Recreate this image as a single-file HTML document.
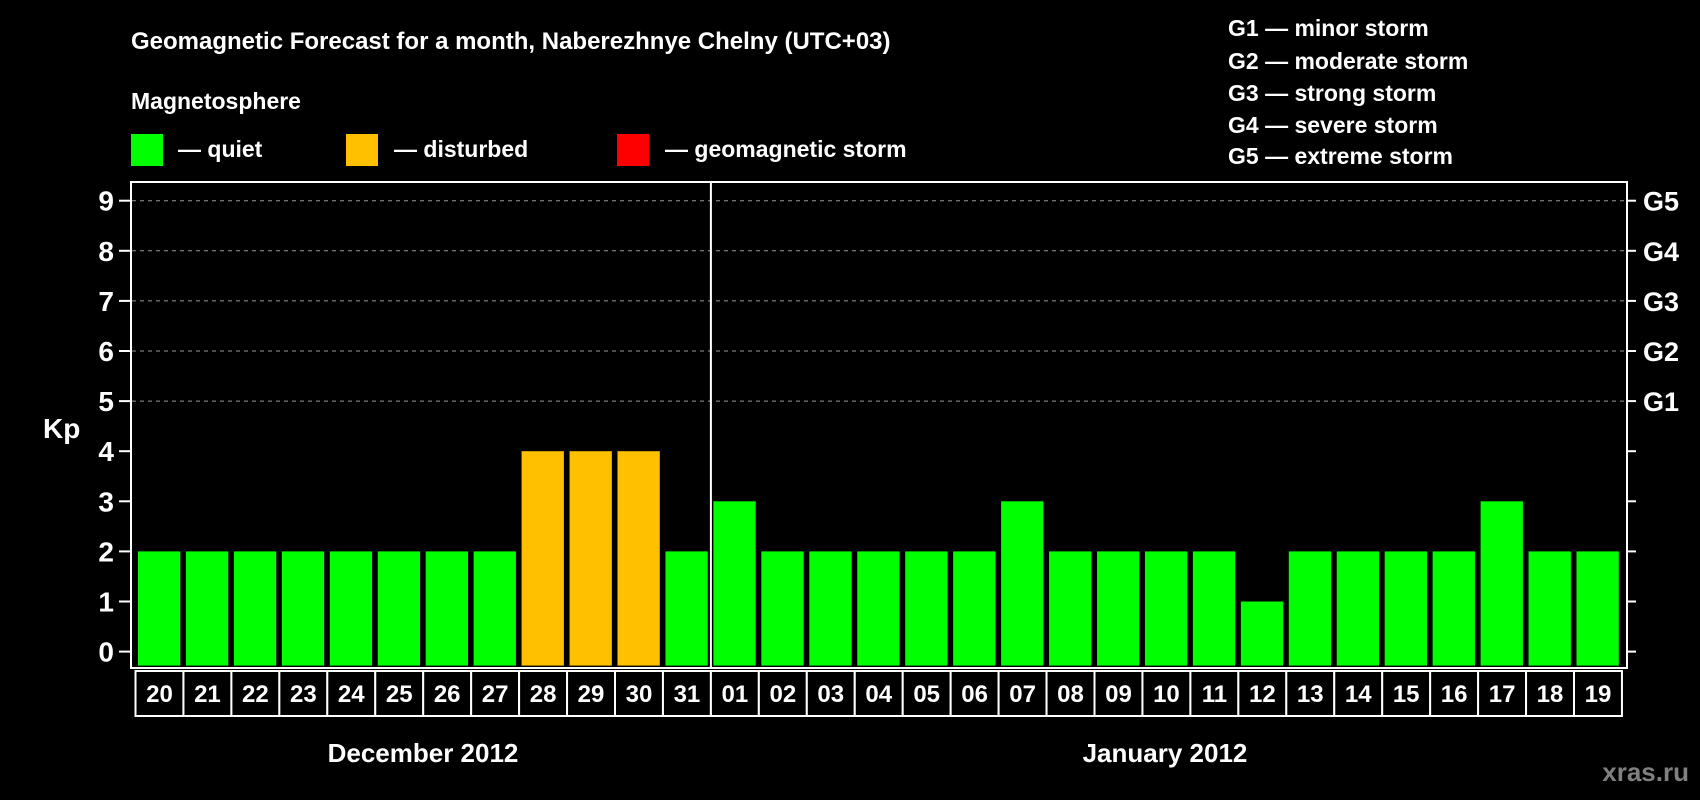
<!DOCTYPE html>
<html><head><meta charset="utf-8"><style>
body{margin:0;background:#000;}
svg{display:block;font-family:"Liberation Sans",Arial,sans-serif;font-weight:bold;}
</style></head><body>
<svg width="1700" height="800" viewBox="0 0 1700 800">
<rect width="1700" height="800" fill="#000"/>
<text x="131" y="49" fill="#fff" font-size="24">Geomagnetic Forecast for a month, Naberezhnye Chelny (UTC+03)</text>
<text x="131" y="109" fill="#fff" font-size="23">Magnetosphere</text>
<rect x="131" y="134" width="32" height="32" fill="#00ff00"/>
<text x="178" y="157" fill="#fff" font-size="23">— quiet</text>
<rect x="346" y="134" width="32" height="32" fill="#ffc000"/>
<text x="394" y="157" fill="#fff" font-size="23">— disturbed</text>
<rect x="617" y="134" width="32" height="32" fill="#ff0000"/>
<text x="665" y="157" fill="#fff" font-size="23">— geomagnetic storm</text>
<g fill="#fff" font-size="23">
<text x="1228" y="36">G1 — minor storm</text>
<text x="1228" y="69">G2 — moderate storm</text>
<text x="1228" y="101">G3 — strong storm</text>
<text x="1228" y="133">G4 — severe storm</text>
<text x="1228" y="164">G5 — extreme storm</text>
</g>
<text x="43" y="438" fill="#fff" font-size="28">Kp</text>
<g id="grid"></g>
<g id="bars"></g>
<rect x="131" y="182" width="1496" height="486" fill="none" stroke="#fff" stroke-width="2"/>
<g id="axes"></g>
<text x="423" y="762" fill="#fff" font-size="26" text-anchor="middle">December 2012</text>
<text x="1165" y="762" fill="#fff" font-size="26" text-anchor="middle">January 2012</text>
<text x="1689" y="781" fill="#808080" font-size="26" text-anchor="end">xras.ru</text>
</svg>
<script>
const days=["20","21","22","23","24","25","26","27","28","29","30","31","01","02","03","04","05","06","07","08","09","10","11","12","13","14","15","16","17","18","19"];
const kp=[2,2,2,2,2,2,2,2,4,4,4,2,3,2,2,2,2,2,3,2,2,2,2,1,2,2,2,2,3,2,2];
const yTicks=[0,1,2,3,4,5,6,7,8,9];
const gLabels=[[5,"G1"],[6,"G2"],[7,"G3"],[8,"G4"],[9,"G5"]];
const NS="http://www.w3.org/2000/svg";
const y0=651.6,unit=50.1,x0=135.5,slot=47.95;
const yS=v=>y0-v*unit;
const xS=i=>x0+i*slot;
function mk(t,a,p){const e=document.createElementNS(NS,t);for(const k in a)e.setAttribute(k,a[k]);p.appendChild(e);return e;}
const grid=document.getElementById('grid'),bars=document.getElementById('bars'),axes=document.getElementById('axes');
yTicks.forEach(v=>{
 if(v>=5){const l=mk('line',{x1:132,x2:1626,y1:yS(v),y2:yS(v),stroke:'#999','stroke-dasharray':'4,4','stroke-width':1},grid);
 
 }
 const t=mk('line',{x1:119,x2:131,y1:yS(v),y2:yS(v),stroke:'#fff','stroke-width':2},axes);
 
 
 const r=mk('line',{x1:1627,x2:1636,y1:yS(v),y2:yS(v),stroke:'#fff','stroke-width':2},axes);
 
 
 const tx=mk('text',{x:114,y:yS(v)+10,fill:'#fff','font-size':28,'text-anchor':'end'},axes);
 tx.textContent=v;
 
 
});
gLabels.forEach(([v,g])=>{
 const tx=mk('text',{x:1643,y:yS(v)+10,fill:'#fff','font-size':27},axes);
 tx.textContent=g;
 
 
});
kp.forEach((v,i)=>{
 const col=v>=5?'#ff0000':(v>=4?'#ffc000':'#00ff00');
 const b=mk('rect',{x:xS(i)+2.5,y:yS(v),width:42.3,height:v*unit+14,fill:col},bars);
 
 
 const c=mk('rect',{x:xS(i),y:671,width:slot,height:45,fill:'#000',stroke:'#fff','stroke-width':2},axes);
 
 
 const t=mk('text',{x:xS(i)+slot/2,y:702,fill:'#fff','font-size':24,'text-anchor':'middle'},axes);
 t.textContent=days[i];
 
 
});
const d=mk('line',{x1:xS(12),x2:xS(12),y1:182,y2:668,stroke:'#fff','stroke-width':2},axes);


</script>
</body></html>
